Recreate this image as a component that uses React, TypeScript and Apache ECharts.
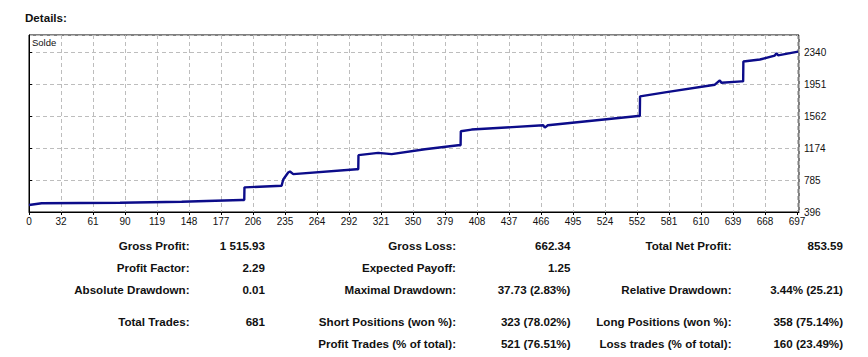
import React, { useEffect, useRef } from "react";
import * as echarts from "echarts";

const xTickLabels = ["0", "32", "61", "90", "119", "148", "177", "206", "235", "264", "292", "321", "350", "379", "408", "437", "466", "495", "524", "552", "581", "610", "639", "668", "697"];
const yTickLabels = ["396", "785", "1174", "1562", "1951", "2340"];

// balance curve (x in trade-axis units, y in balance)
const balanceX = [0, 11.5, 82.6, 138.6, 161.3, 193, 195.4, 195.6, 229.3, 230.8, 235.3, 236.9, 239.9, 297.4, 298.9, 299.1, 317, 329.2, 359.4, 389.6, 391.8, 392, 401.8, 466.8, 468.3, 471, 553, 554.5, 554.7, 578.8, 622.6, 627.1, 628.6, 646.8, 648.3, 648.5, 663.5, 677, 678.6, 680, 698.2];
const balanceY = [481, 502, 509, 521, 530, 542, 542, 696, 716, 793, 878, 890, 858, 918, 918, 1089, 1117, 1101, 1161, 1210, 1210, 1380, 1401, 1453, 1425, 1453, 1566, 1566, 1805, 1858, 1948, 2000, 1972, 1988, 1988, 2231, 2255, 2303, 2331, 2306, 2352];

const statRowLabels1 = ["Gross Profit:", "Profit Factor:", "Absolute Drawdown:", "Total Trades:", ""];
const statRowValues1 = ["1 515.93", "2.29", "0.01", "681", ""];
const statRowLabels2 = ["Gross Loss:", "Expected Payoff:", "Maximal Drawdown:", "Short Positions (won %):", "Profit Trades (% of total):"];
const statRowValues2 = ["662.34", "1.25", "37.73 (2.83%)", "323 (78.02%)", "521 (76.51%)"];
const statRowLabels3 = ["Total Net Profit:", "", "Relative Drawdown:", "Long Positions (won %):", "Loss trades (% of total):"];
const statRowValues3 = ["853.59", "", "3.44% (25.21)", "358 (75.14%)", "160 (23.49%)"];

const Y_MIN = 396;
const Y_STEP = 388.8;
const Y_MAX = 2554;

export default function App() {
  const ref = useRef<HTMLDivElement>(null);
  useEffect(() => {
    if (!ref.current) return;
    const chart = echarts.init(ref.current, null, { renderer: "svg" });
    const rowY = [245, 267, 289, 321, 343];
    const font = "'Liberation Sans', Arial, sans-serif";
    const texts: any[] = [];
    const cols: [string[], number, string[], number][] = [
      [statRowLabels1, 189.5, statRowValues1, 265],
      [statRowLabels2, 456, statRowValues2, 570.5],
      [statRowLabels3, 731.5, statRowValues3, 843],
    ];
    const tStyle = { align: "right", verticalAlign: "middle", fontFamily: font, fontSize: 11.6, fontWeight: "bold", fill: "#111" };
    cols.forEach(([labels, lx, values, vx]) => {
      labels.forEach((t, i) => {
        if (t) texts.push({ type: "text", x: lx, y: rowY[i], style: { ...tStyle, text: t } });
        if (values[i]) texts.push({ type: "text", x: vx, y: rowY[i], style: { ...tStyle, text: values[i] } });
      });
    });
    texts.push({ type: "text", x: 25, y: 17, style: { ...tStyle, text: "Details:", align: "left" } });
    texts.push({ type: "text", x: 32, y: 42.5, z: 10, style: { text: "Solde", align: "left", verticalAlign: "middle", fontFamily: font, fontSize: 9.5, fill: "#111" } });

    const data = balanceX.map((x, i) => [x, balanceY[i]]);
    chart.setOption({
      animation: false,
      backgroundColor: "#ffffff",
      grid: { left: 29, top: 35, width: 770, height: 177, show: true, borderColor: "#000", borderWidth: 1, containLabel: false },
      xAxis: [
        {
          type: "value",
          min: 0,
          max: 770 / 32,
          interval: 1,
          axisLine: { show: true, lineStyle: { color: "#000", width: 1 } },
          axisTick: { show: true, length: 3, lineStyle: { color: "#000" } },
          axisLabel: {
            margin: 4,
            fontFamily: font,
            fontSize: 10,
            color: "#111",
            showMaxLabel: false,
            formatter: (v: number) => {
              const i = Math.round(v);
              return Math.abs(v - i) < 1e-6 && xTickLabels[i] !== undefined ? xTickLabels[i] : "";
            },
          },
          splitLine: { show: true, lineStyle: { color: "#bdbdbd", type: [4, 3], width: 1 } },
        },
        { type: "value", min: 0, max: 699, show: false },
      ],
      yAxis: {
        type: "value",
        position: "right",
        min: Y_MIN,
        max: Y_MAX,
        interval: Y_STEP,
        axisLine: { show: true, lineStyle: { color: "#000", width: 1 } },
        axisTick: { show: true, length: 3, lineStyle: { color: "#000" } },
        axisLabel: {
          margin: 5,
          fontFamily: font,
          fontSize: 10,
          color: "#111",
          showMaxLabel: false,
          formatter: (v: number) => {
            const i = Math.round((v - Y_MIN) / Y_STEP);
            return Math.abs(v - (Y_MIN + i * Y_STEP)) < 0.5 && yTickLabels[i] !== undefined ? yTickLabels[i] : "";
          },
        },
        splitLine: { show: true, lineStyle: { color: "#bdbdbd", type: [4, 3], width: 1 } },
      },
      series: [
        {
          type: "line",
          xAxisIndex: 1,
          data,
          symbol: "none",
          lineStyle: { color: "#0c0c8a", width: 2.4 },
          z: 5,
        },
      ],
      graphic: texts,
    });
    return () => chart.dispose();
  }, []);
  return <div ref={ref} style={{ position: "absolute", left: 0, top: 0, width: 868, height: 357 }} />;
}
